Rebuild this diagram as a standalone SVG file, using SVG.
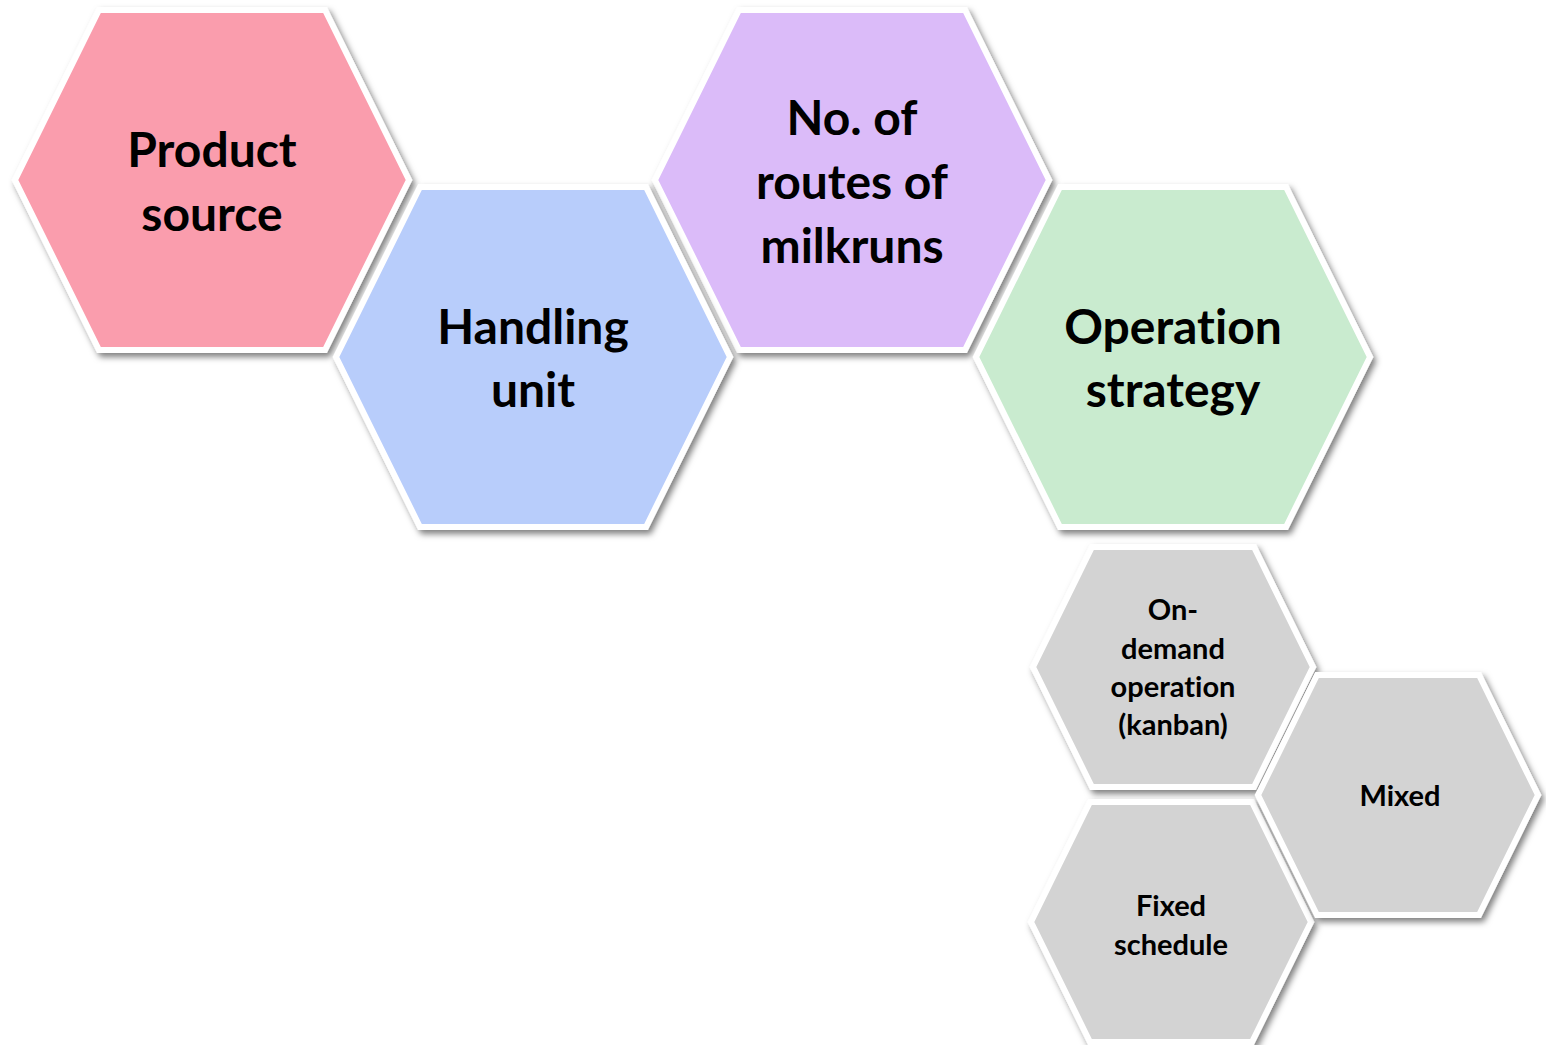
<svg xmlns="http://www.w3.org/2000/svg" width="1546" height="1045" viewBox="0 0 1546 1045">
  <defs>
    <filter id="shadow" x="-10%" y="-10%" width="125%" height="125%">
      <feDropShadow dx="3" dy="4" stdDeviation="3" flood-color="#000" flood-opacity="0.5"/>
    </filter>
    <!-- large hexagon centred on origin -->
    <polygon id="hexL" points="-113,-170 113,-170 197,0 113,170 -113,170 -197,0"/>
    <!-- small hexagon centred on origin -->
    <polygon id="hexS" points="-81,-120 81,-120 140,0 81,120 -81,120 -140,0"/>
  </defs>
  <style>
    .hex { stroke: #ffffff; stroke-width: 6; stroke-linejoin: miter; filter: url(#shadow); }
    .big, .small { font-family: "Lato", "Open Sans", "Liberation Sans", sans-serif; font-weight: bold; fill: #000; text-anchor: middle; font-variant-ligatures: none; }
    .big { font-size: 48px; }
    .small { font-size: 29px; }
  </style>
  <rect width="1546" height="1045" fill="#ffffff"/>

  <g id="connectors"></g>

  <g id="product-source">
    <use href="#hexL" x="212" y="180" class="hex" fill="#FA9DAD"/>
    <text class="big" x="212" y="167">Product</text>
    <text class="big" x="212" y="231">source</text>
  </g>

  <g id="no-of-routes">
    <use href="#hexL" x="852" y="180" class="hex" fill="#DBBBF9"/>
    <text class="big" x="852" y="135">No. of</text>
    <text class="big" x="852" y="199">routes of</text>
    <text class="big" x="852" y="263">milkruns</text>
  </g>

  <g id="handling-unit">
    <use href="#hexL" x="533" y="357" class="hex" fill="#B8CDFB"/>
    <text class="big" x="533" y="344">Handling</text>
    <text class="big" x="533" y="407">unit</text>
  </g>

  <g id="operation-strategy">
    <use href="#hexL" x="1173" y="357" class="hex" fill="#C9EBCF"/>
    <text class="big" x="1173" y="344">Operation</text>
    <text class="big" x="1173" y="407">strategy</text>
  </g>

  <g id="on-demand">
    <use href="#hexS" x="1173" y="667" class="hex" fill="#D3D3D3"/>
    <text class="small" x="1173" y="620">On-</text>
    <text class="small" x="1173" y="659">demand</text>
    <text class="small" x="1173" y="697">operation</text>
    <text class="small" x="1173" y="735">(kanban)</text>
  </g>

  <g id="fixed-schedule">
    <use href="#hexS" x="1171" y="922" class="hex" fill="#D3D3D3"/>
    <text class="small" x="1171" y="916">Fixed</text>
    <text class="small" x="1171" y="955">schedule</text>
  </g>

  <g id="mixed">
    <use href="#hexS" x="1398" y="795" class="hex" fill="#D3D3D3"/>
    <text class="small" x="1400" y="806">Mixed</text>
  </g>
</svg>
